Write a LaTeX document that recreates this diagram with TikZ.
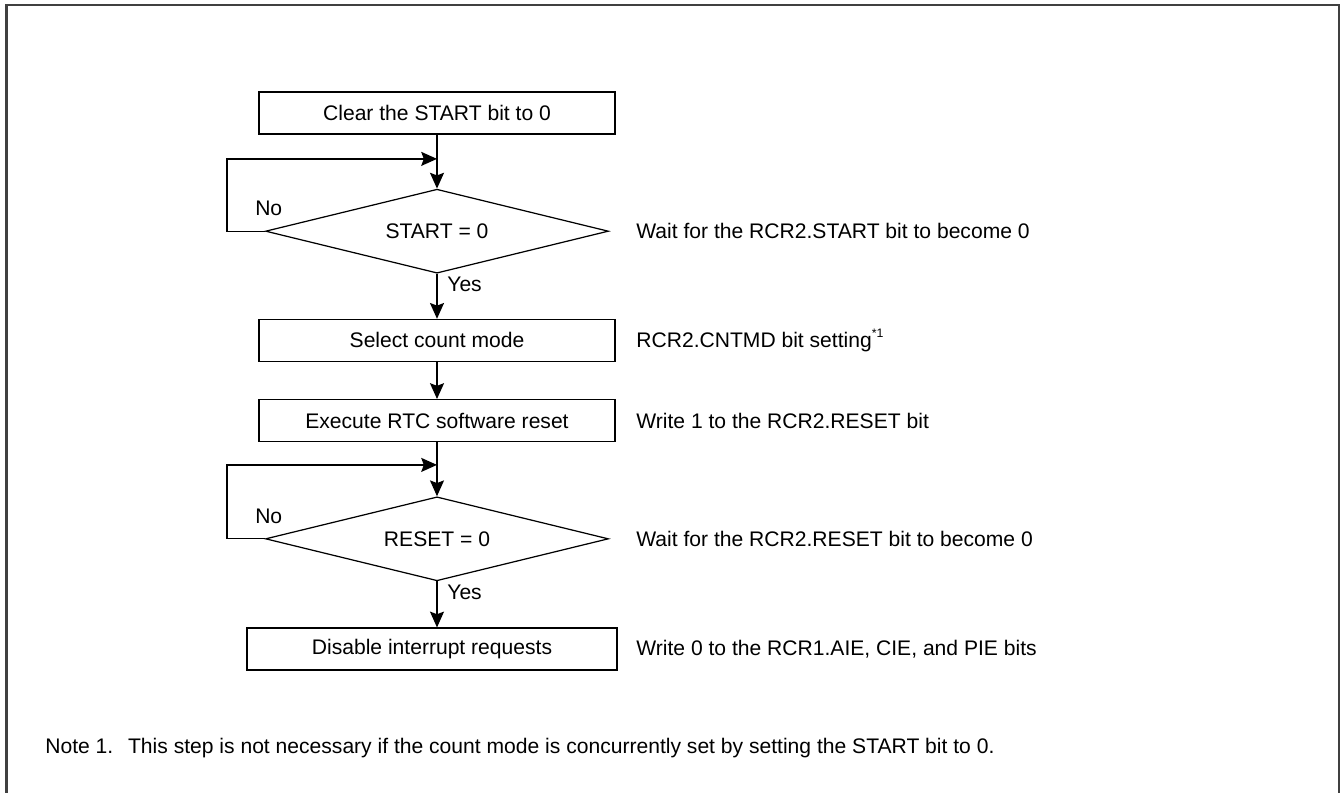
\documentclass[tikz,border=0pt]{standalone}
\usepackage{fontspec}
\setmainfont{Liberation Sans}
\usetikzlibrary{shapes.geometric, arrows.meta, positioning, calc}
\definecolor{frm}{HTML}{404040}
\tikzset{
  proc/.style = {rectangle, draw, line width=0.7pt,
                 minimum width=7.12cm, minimum height=0.84cm, inner sep=0pt,
                 font=\fontsize{12}{14}\selectfont, align=center},
  dec/.style  = {diamond, draw, line width=0.7pt, shape aspect=4,
                 minimum width=6.86cm, minimum height=1.68cm, inner sep=0pt,
                 font=\fontsize{12}{14}\selectfont},
  cmt/.style  = {anchor=west, inner sep=0pt, font=\fontsize{12}{14}\selectfont},
  lbl/.style  = {inner sep=0pt, font=\fontsize{12}{14}\selectfont},
  arr/.style  = {-{Stealth[length=9pt, width=8pt, inset=1.5pt]}, line width=0.75pt},
}

\begin{document}
\begin{tikzpicture}[x=0.02cm, y=0.02cm]
  \useasboundingbox (0,0) rectangle (1341,793);
  \draw[frm, line width=1.2pt] (6.5,0) -- (6.5,788) -- (1339,788) -- (1339,0);

  \node[proc] (clr) at (437,680) {Clear the START bit to 0};
  \node[dec, below=1.08cm of clr] (st0) {START = 0};
  \node[proc, below=0.90cm of st0] (cnt) {Select count mode};
  \node[proc, below=0.74cm of cnt] (rst) {Execute RTC software reset};
  \node[dec, below=1.08cm of rst] (rs0) {RESET = 0};
  \node[proc, below=0.92cm of rs0, xshift=-0.1cm, minimum width=7.4cm] (irq) {Disable interrupt requests};

  \coordinate (j1) at ($(clr.south)!0.45!(st0.north)$);
  \coordinate (j2) at ($(rst.south)!0.42!(rs0.north)$);

  \draw[arr] (clr) -- (st0);
  \draw[arr] (st0.west) -- ++(-38,0) |- (j1);
  \draw[arr] (st0) -- (cnt);
  \draw[arr] (cnt) -- (rst);
  \draw[arr] (rst) -- (rs0);
  \draw[arr] (rs0.west) -- ++(-38,0) |- (j2);
  \draw[arr] (rs0.south) -- (rs0.south |- irq.north);

  % yes / no labels
  \node[lbl, anchor=south west] (no1)  at ($(st0.west)+(-10,15)$) {No};
  \node[lbl, anchor=north west] (yes1) at ($(st0.south)+(10,-3)$) {Yes};
  \node[lbl, anchor=south west] (no2)  at ($(rs0.west)+(-10,15)$) {No};
  \node[lbl, anchor=north west] (yes2) at ($(rs0.south)+(10,-3)$) {Yes};

  % comments on the right
  \coordinate (tx) at (636,0);
  \node[cmt] (c1) at (st0.east -| tx) {Wait for the RCR2.START bit to become 0};
  \node[cmt] (c2) at (cnt.east -| tx) {RCR2.CNTMD bit setting\raisebox{0.9ex}{\fontsize{7}{8}\selectfont *1}};
  \node[cmt] (c3) at (rst.east -| tx) {Write 1 to the RCR2.RESET bit};
  \node[cmt] (c4) at (rs0.east -| tx) {Wait for the RCR2.RESET bit to become 0};
  \node[cmt] (c5) at (irq.east -| tx) {Write 0 to the RCR1.AIE, CIE, and PIE bits};

  \node[cmt] (note) at (45,45) {Note 1.\hspace{0.7em}This step is not necessary if the count mode is concurrently set by setting the START bit to 0.};
\end{tikzpicture}
\end{document}
